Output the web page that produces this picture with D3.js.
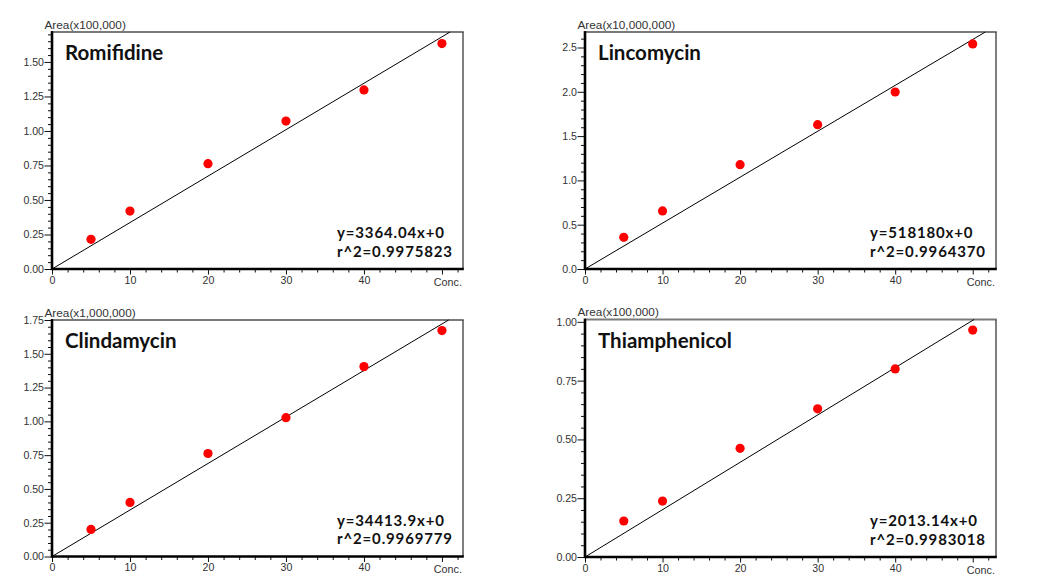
<!DOCTYPE html>
<html><head><meta charset="utf-8">
<script src="https://cdn.jsdelivr.net/npm/d3@7"></script>
<style>
html,body{margin:0;padding:0;background:#fff;}
svg{display:block;}
.axis text{font-family:"Liberation Sans",Arial,sans-serif;font-size:10.6px;fill:#333;}
.unit{font-family:"Liberation Sans",Arial,sans-serif;font-size:11.8px;fill:#333;}
.conc{font-family:"Liberation Sans",Arial,sans-serif;font-size:10.8px;fill:#333;}
.title{font-family:Lato,"Open Sans",sans-serif;font-weight:700;font-size:20.5px;fill:#111;}
.eq{font-family:Lato,"Open Sans",sans-serif;font-weight:700;font-size:15px;fill:#111;letter-spacing:0.85px;}
</style></head><body>
<svg id="chart" width="1038" height="578"></svg>
<script>
// ---- data ----
const concentrations = [5, 10, 20, 30, 40, 50];
const xTickValues = [0, 10, 20, 30, 40];
const xEndLabel = "Conc.";

const names = ["Romifidine", "Lincomycin", "Clindamycin", "Thiamphenicol"];
const unitLabels = ["Area(x100,000)", "Area(x10,000,000)", "Area(x1,000,000)", "Area(x100,000)"];

const romifidineArea    = [0.215, 0.420, 0.763, 1.072, 1.297, 1.633];
const lincomycinArea    = [0.358, 0.655, 1.177, 1.629, 1.998, 2.540];
const clindamycinArea   = [0.200, 0.400, 0.762, 1.027, 1.405, 1.672];
const thiamphenicolArea = [0.153, 0.238, 0.462, 0.630, 0.800, 0.965];

// slopes in the axis units (raw slope / unit multiplier)
const slopes = [3364.04 / 1e5, 518180 / 1e7, 34413.9 / 1e6, 2013.14 / 1e5];
const equations = ["y=3364.04x+0", "y=518180x+0", "y=34413.9x+0", "y=2013.14x+0"];
const rSquared = ["r^2=0.9975823", "r^2=0.9964370", "r^2=0.9969779", "r^2=0.9983018"];

const romifidineYTicks    = [0, 0.25, 0.5, 0.75, 1.0, 1.25, 1.5];
const lincomycinYTicks    = [0, 0.5, 1.0, 1.5, 2.0, 2.5];
const clindamycinYTicks   = [0, 0.25, 0.5, 0.75, 1.0, 1.25, 1.5, 1.75];
const thiamphenicolYTicks = [0, 0.25, 0.5, 0.75, 1.0];

const yMaxima = [1.717, 2.675, 1.75, 1.01];
const xMaxima = [52.7, 53.0, 52.7, 53.0];
const yMinorSteps = [0.05, 0.1, 0.05, 0.05];
const yFormats = [".2f", ".1f", ".2f", ".2f"];

const seriesValues = [romifidineArea, lincomycinArea, clindamycinArea, thiamphenicolArea];
const yTickSets = [romifidineYTicks, lincomycinYTicks, clindamycinYTicks, thiamphenicolYTicks];

// ---- layout ----
const boxes = [
  {left: 52,  right: 463, top: 32,    bottom: 269},
  {left: 585, right: 996, top: 32,    bottom: 269},
  {left: 52,  right: 463, top: 320,   bottom: 556.5},
  {left: 585, right: 996, top: 319.5, bottom: 557}
];

const svg = d3.select("#chart");
svg.append("rect").attr("width", 1038).attr("height", 578).attr("fill", "#fff");

function rangeStep(max, step) {
  const out = [];
  for (let i = 0; i * step <= max + 1e-9; i++) out.push(+(i * step).toFixed(4));
  return out;
}

names.forEach((name, i) => {
  const box = boxes[i];
  const g = svg.append("g");
  const x = d3.scaleLinear().domain([0, xMaxima[i]]).range([box.left, box.right]);
  const y = d3.scaleLinear().domain([0, yMaxima[i]]).range([box.bottom, box.top]);

  // frame: top and right
  g.append("line").attr("x1", box.left).attr("x2", box.right + 0.8)
    .attr("y1", box.top).attr("y2", box.top).attr("stroke", "#7a7a7a").attr("stroke-width", 1.8);
  g.append("line").attr("x1", box.right).attr("x2", box.right)
    .attr("y1", box.top).attr("y2", box.bottom).attr("stroke", "#555").attr("stroke-width", 1.5);

  // y minor ticks
  const majors = yTickSets[i];
  const yMinor = rangeStep(yMaxima[i], yMinorSteps[i]).filter(v => !majors.some(m => Math.abs(m - v) < 1e-6));
  g.append("g").attr("class", "axis").attr("transform", `translate(${box.left},0)`)
    .call(d3.axisLeft(y).tickValues(yMinor).tickSize(4).tickFormat(""))
    .call(s => s.select(".domain").remove())
    .call(s => s.selectAll("line").attr("stroke", "#111"));
  // y major ticks
  g.append("g").attr("class", "axis").attr("transform", `translate(${box.left},0)`)
    .call(d3.axisLeft(y).tickValues(majors).tickSize(7.5).tickPadding(0.5).tickFormat(d3.format(yFormats[i])))
    .call(s => s.select(".domain").remove())
    .call(s => s.selectAll("line").attr("stroke", "#111"));

  // x minor ticks
  const xMinor = rangeStep(xMaxima[i], 2).filter(v => v % 10 !== 0);
  g.append("g").attr("class", "axis").attr("transform", `translate(0,${box.bottom})`)
    .call(d3.axisBottom(x).tickValues(xMinor).tickSize(3.5).tickFormat(""))
    .call(s => s.select(".domain").remove())
    .call(s => s.selectAll("line").attr("stroke", "#111"));
  // x major ticks
  g.append("g").attr("class", "axis").attr("transform", `translate(0,${box.bottom})`)
    .call(d3.axisBottom(x).tickValues(xTickValues).tickSize(5.5).tickPadding(1.5).tickFormat(d3.format("d")))
    .call(s => s.select(".domain").remove())
    .call(s => s.selectAll("line").attr("stroke", "#111"));
  // end tick (50) with "Conc." label
  g.append("g").attr("class", "axis").attr("transform", `translate(0,${box.bottom})`)
    .call(d3.axisBottom(x).tickValues([concentrations[concentrations.length - 1]]).tickSize(5.5).tickFormat(""))
    .call(s => s.select(".domain").remove())
    .call(s => s.selectAll("line").attr("stroke", "#111"));
  g.append("text").attr("class", "conc").attr("x", box.right - 1).attr("y", box.bottom + 16.5)
    .attr("text-anchor", "end").text(xEndLabel);

  // axes lines left & bottom
  g.append("line").attr("x1", box.left).attr("x2", box.left)
    .attr("y1", box.top - 0.9).attr("y2", box.bottom + 1.2).attr("stroke", "#000").attr("stroke-width", 2.6);
  g.append("line").attr("x1", box.left).attr("x2", box.right + 0.8)
    .attr("y1", box.bottom).attr("y2", box.bottom).attr("stroke", "#000").attr("stroke-width", 2.6);

  // unit label
  g.append("text").attr("class", "unit").attr("x", box.left - 7.5).attr("y", box.top - 3.2).text(unitLabels[i]);

  // regression line through origin, clipped at plot box
  const xEnd = Math.min(xMaxima[i], yMaxima[i] / slopes[i]);
  g.append("line").attr("x1", x(0)).attr("y1", y(0)).attr("x2", x(xEnd)).attr("y2", y(slopes[i] * xEnd))
    .attr("stroke", "#000").attr("stroke-width", 1);

  // points
  g.selectAll("circle.pt").data(seriesValues[i]).enter().append("circle")
    .attr("class", "pt")
    .attr("cx", (d, k) => x(concentrations[k]))
    .attr("cy", d => y(d))
    .attr("r", 4.6).attr("fill", "#ff0000");

  // title
  g.append("text").attr("class", "title").attr("x", box.left + 13).attr("y", box.top + 28).text(name);

  // equation text
  g.append("text").attr("class", "eq").attr("x", box.right - 126).attr("y", box.bottom - 31).text(equations[i]);
  g.append("text").attr("class", "eq").attr("x", box.right - 126).attr("y", box.bottom - 12.5).text(rSquared[i]);
});
</script>
</body></html>
